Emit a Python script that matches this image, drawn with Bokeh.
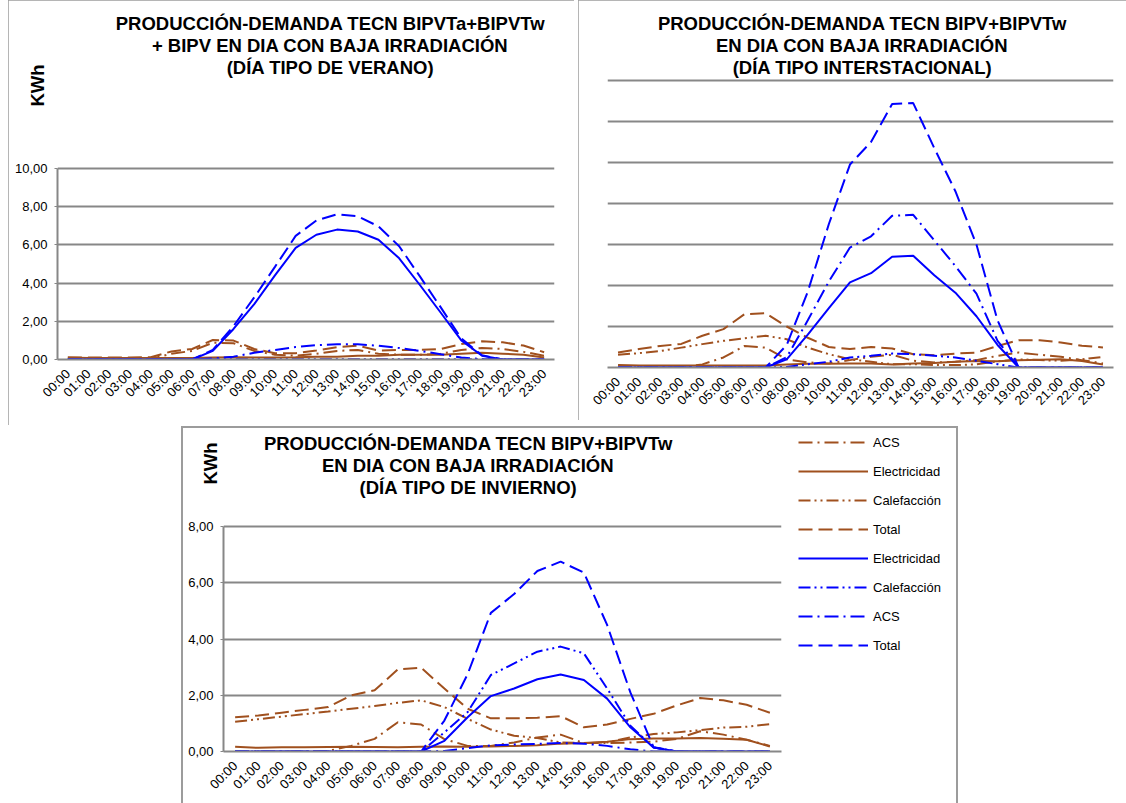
import math
from bokeh.plotting import figure
from bokeh.models import (FactorRange, Range1d, FixedTicker, CustomJSTickFormatter,
                          Label, Legend, LegendItem, Spacer)
from bokeh.layouts import row, column
from bokeh.embed import file_html
from bokeh.resources import INLINE

# ---------------- data ----------------
hours = ["00:00", "01:00", "02:00", "03:00", "04:00", "05:00", "06:00", "07:00",
         "08:00", "09:00", "10:00", "11:00", "12:00", "13:00", "14:00", "15:00",
         "16:00", "17:00", "18:00", "19:00", "20:00", "21:00", "22:00", "23:00"]

# Día tipo de verano (demanda = marrón, producción = azul)
ver_dem_acs = [0, 0, 0, 0, 0.02, 0.3, 0.45, 0.88, 0.85, 0.45, 0.25, 0.2, 0.3, 0.45, 0.5, 0.3, 0.25, 0.25, 0.3, 0.5, 0.6, 0.55, 0.4, 0.2]
ver_dem_elec = [0.1, 0.08, 0.08, 0.08, 0.08, 0.08, 0.08, 0.1, 0.12, 0.1, 0.1, 0.12, 0.15, 0.15, 0.2, 0.2, 0.25, 0.25, 0.25, 0.3, 0.35, 0.3, 0.25, 0.1]
ver_dem_cal = [0, 0, 0, 0, 0, 0, 0, 0, 0, 0, 0, 0, 0, 0, 0, 0, 0, 0, 0, 0, 0, 0, 0, 0]
ver_dem_tot = [0.1, 0.1, 0.1, 0.1, 0.12, 0.42, 0.55, 1.02, 0.99, 0.55, 0.33, 0.33, 0.47, 0.64, 0.73, 0.47, 0.5, 0.5, 0.55, 0.81, 0.95, 0.9, 0.73, 0.38]
ver_pro_elec = [0, 0, 0, 0, 0, 0, 0, 0.45, 1.6, 2.9, 4.4, 5.84, 6.53, 6.8, 6.7, 6.27, 5.3, 3.9, 2.46, 1.0, 0.2, 0, 0, 0]
ver_pro_cal = [0, 0, 0, 0, 0, 0, 0, 0, 0, 0, 0, 0, 0, 0, 0, 0, 0, 0, 0, 0, 0, 0, 0, 0]
ver_pro_acs = [0, 0, 0, 0, 0, 0, 0, 0.05, 0.15, 0.35, 0.5, 0.65, 0.75, 0.8, 0.8, 0.72, 0.6, 0.45, 0.28, 0.1, 0.02, 0, 0, 0]
ver_pro_tot = [0, 0, 0, 0, 0, 0, 0, 0.5, 1.75, 3.25, 4.85, 6.47, 7.28, 7.6, 7.5, 6.97, 5.93, 4.35, 2.74, 1.1, 0.22, 0, 0, 0]

# Día tipo interstacional
int_dem_acs = [0, 0, 0, 0.02, 0.15, 0.49, 1.05, 0.97, 0.4, 0.25, 0.2, 0.36, 0.52, 0.62, 0.33, 0.25, 0.28, 0.36, 0.57, 0.73, 0.62, 0.52, 0.36, 0.2]
int_dem_elec = [0.12, 0.1, 0.1, 0.1, 0.1, 0.1, 0.1, 0.1, 0.15, 0.18, 0.18, 0.2, 0.2, 0.15, 0.2, 0.22, 0.28, 0.32, 0.3, 0.35, 0.38, 0.4, 0.32, 0.15]
int_dem_cal = [0.62, 0.7, 0.8, 0.97, 1.14, 1.3, 1.43, 1.55, 1.38, 0.97, 0.65, 0.4, 0.28, 0.16, 0.16, 0.12, 0.12, 0.15, 0.3, 0.4, 0.36, 0.33, 0.4, 0.52]
int_dem_tot = [0.73, 0.9, 1.05, 1.15, 1.55, 1.87, 2.6, 2.65, 2.0, 1.45, 1.0, 0.9, 1.0, 0.93, 0.65, 0.6, 0.68, 0.73, 1.05, 1.33, 1.33, 1.22, 1.06, 0.98]
int_pro_elec = [0, 0, 0, 0, 0, 0, 0, 0, 0.4, 1.6, 2.9, 4.15, 4.6, 5.4, 5.45, 4.5, 3.65, 2.5, 1.1, 0, 0, 0, 0, 0]
int_pro_cal = [0, 0, 0, 0, 0, 0, 0, 0, 0.03, 0.16, 0.28, 0.49, 0.57, 0.68, 0.65, 0.57, 0.49, 0.33, 0.16, 0, 0, 0, 0, 0]
int_pro_acs = [0, 0, 0, 0, 0, 0, 0, 0, 0.5, 2.3, 4.2, 5.85, 6.4, 7.4, 7.45, 6.2, 4.95, 3.6, 1.3, 0, 0, 0, 0, 0]
int_pro_tot = [0, 0, 0, 0, 0, 0, 0, 0, 1.1, 3.7, 7.0, 9.9, 11.0, 12.85, 12.9, 10.7, 8.6, 6.0, 2.3, 0, 0, 0, 0, 0]

# Día tipo de invierno
inv_dem_acs = [0, 0, 0, 0, 0.02, 0.2, 0.45, 1.04, 0.96, 0.44, 0.2, 0.2, 0.32, 0.5, 0.6, 0.3, 0.3, 0.32, 0.35, 0.45, 0.72, 0.6, 0.42, 0.2]
inv_dem_elec = [0.17, 0.13, 0.15, 0.15, 0.16, 0.17, 0.16, 0.15, 0.17, 0.18, 0.17, 0.18, 0.2, 0.22, 0.28, 0.3, 0.35, 0.44, 0.46, 0.46, 0.48, 0.45, 0.42, 0.18]
inv_dem_cal = [1.06, 1.15, 1.24, 1.33, 1.42, 1.52, 1.62, 1.73, 1.82, 1.58, 1.16, 0.78, 0.56, 0.48, 0.32, 0.3, 0.32, 0.5, 0.62, 0.68, 0.76, 0.85, 0.88, 0.97]
inv_dem_tot = [1.22, 1.28, 1.38, 1.48, 1.58, 2.0, 2.18, 2.92, 2.98, 2.24, 1.52, 1.18, 1.18, 1.2, 1.26, 0.86, 0.96, 1.16, 1.34, 1.64, 1.9, 1.82, 1.66, 1.38]
inv_pro_elec = [0, 0, 0, 0, 0, 0, 0, 0, 0, 0.38, 1.22, 1.97, 2.24, 2.57, 2.74, 2.54, 1.88, 0.86, 0.14, 0, 0, 0, 0, 0]
inv_pro_cal = [0, 0, 0, 0, 0, 0, 0, 0, 0, 0.68, 1.4, 2.72, 3.13, 3.55, 3.73, 3.49, 2.24, 0.92, 0.14, 0, 0, 0, 0, 0]
inv_pro_acs = [0, 0, 0, 0, 0, 0, 0, 0, 0, 0.02, 0.12, 0.22, 0.25, 0.27, 0.3, 0.28, 0.2, 0.08, 0, 0, 0, 0, 0, 0]
inv_pro_tot = [0, 0, 0, 0, 0, 0, 0, 0, 0, 1.1, 2.75, 4.93, 5.6, 6.42, 6.75, 6.36, 4.5, 2.1, 0.15, 0, 0, 0, 0, 0]

titles_ver = "PRODUCCIÓN-DEMANDA TECN BIPVTa+BIPVTw\n+ BIPV EN DIA CON BAJA IRRADIACIÓN\n(DÍA TIPO DE VERANO)"
titles_int = "PRODUCCIÓN-DEMANDA TECN BIPV+BIPVTw\nEN DIA CON BAJA IRRADIACIÓN\n(DÍA TIPO INTERSTACIONAL)"
titles_inv = "PRODUCCIÓN-DEMANDA TECN BIPV+BIPVTw\nEN DIA CON BAJA IRRADIACIÓN\n(DÍA TIPO DE INVIERNO)"
y_label = "KWh"
series_names = ["ACS", "Electricidad", "Calefacción", "Total"]
prod_names = ["Electricidad", "Calefacción", "ACS", "Total"]

# ---------------- styles ----------------
FONT = "Liberation Sans"
BROWN = "#A0501E"
BLUE = "#0000FF"
GRID = "#878787"
EDGE = "#9c9c9c"
DASH = {"ACS": "14 5 2 5", "Electricidad": "solid", "Calefacción": "12 4 2 4 2 4", "Total": "14 6"}
BORDER = {"outline": "2px solid " + EDGE, "outline-offset": "-2px"}
KWH_H = 42  # panel height taken by the rotated KWh label


def no_align(p):
    try:
        p.frame_align = False
    except Exception:
        pass


def make_panel(width, height, ml, mr, mt, mb, ymax, data_px, show_y, border=True):
    y_end = ymax + 2.0 * ymax / data_px   # 2 px headroom so the top grid line shows
    p = figure(width=width, height=height, title=None,
               x_range=FactorRange(factors=hours, range_padding=0),
               y_range=Range1d(0, y_end),
               output_backend="svg", toolbar_location=None,
               min_border_left=ml, min_border_right=mr,
               min_border_top=mt - 2, min_border_bottom=mb)
    no_align(p)
    p.outline_line_color = None
    p.background_fill_color = "white"
    p.border_fill_color = "white"
    if border:
        p.styles = BORDER
    ticks = list(range(0, ymax + 1, 2))
    p.ygrid.ticker = FixedTicker(ticks=ticks)
    p.ygrid.grid_line_color = GRID
    p.ygrid.grid_line_width = 2
    p.xgrid.visible = False

    xa = p.xaxis[0]
    xa.major_label_orientation = math.pi / 4
    xa.major_tick_line_color = None
    xa.minor_tick_line_color = None
    xa.axis_line_color = GRID
    xa.axis_line_width = 2
    xa.major_label_text_font = FONT
    xa.major_label_text_font_size = "13px"
    xa.major_label_text_color = "black"
    xa.major_label_standoff = 6

    ya = p.yaxis[0]
    if show_y:
        ya.ticker = FixedTicker(ticks=ticks)
        ya.bounds = (0, ymax)
        ya.formatter = CustomJSTickFormatter(code="return tick.toFixed(2).replace('.', ',');")
        ya.axis_line_color = GRID
        ya.axis_line_width = 2
        ya.major_tick_line_color = GRID
        ya.major_tick_out = 3
        ya.major_tick_in = 0
        ya.minor_tick_line_color = None
        ya.major_label_text_font = FONT
        ya.major_label_text_font_size = "13px"
        ya.major_label_text_color = "black"
        ya.major_label_standoff = 7
    else:
        ya.visible = False
    return p


def add_series(p, dem, pro):
    rends = {}
    for name, vals in zip(series_names, dem):
        rends[("dem", name)] = p.line(x=hours, y=vals, line_color=BROWN, line_width=2,
                                      line_dash=DASH[name])
    for name, vals in zip(prod_names, pro):
        rends[("pro", name)] = p.line(x=hours, y=vals, line_color=BLUE, line_width=2,
                                      line_dash=DASH[name])
    return rends


def text_label(text, x, y, angle=0.0):
    return Label(x=x, y=y, x_units="screen", y_units="screen", text=text, angle=angle,
                 text_align="center", text_baseline="middle", text_line_height=1.05,
                 text_font=FONT, text_font_size="18.5px", text_font_style="bold",
                 text_color="black")


def blank_fig(width, height, ml=0, x_range=None, y_range=None):
    f = figure(width=width, height=height, title=None, x_axis_type=None, y_axis_type=None,
               x_range=x_range if x_range is not None else Range1d(0, 1),
               y_range=y_range if y_range is not None else Range1d(0, 1),
               output_backend="svg", toolbar_location=None,
               min_border_left=ml, min_border_right=0, min_border_top=0, min_border_bottom=0)
    no_align(f)
    f.outline_line_color = None
    f.background_fill_color = "white"
    f.border_fill_color = "white"
    f.grid.visible = False
    return f


# ---- summer ---- (canvas at page x 8, y 0; frame 57..554 x 168..359)
p1 = make_panel(566, 425, 49, 20, 168, 66, 10, 191, True)
add_series(p1, [ver_dem_acs, ver_dem_elec, ver_dem_cal, ver_dem_tot],
           [ver_pro_elec, ver_pro_cal, ver_pro_acs, ver_pro_tot])
p1.add_layout(text_label(y_label, -20, 166 - 85, math.pi / 2), "above")
p1.add_layout(text_label(titles_ver, 273, 166 - KWH_H - 45), "above")

# ---- interstational ---- (canvas at page x 578, y 0; frame 607..1113 x 80..367)
p2 = make_panel(548, 420, 29, 13, 80, 53, 14, 287, False)
add_series(p2, [int_dem_acs, int_dem_elec, int_dem_cal, int_dem_tot],
           [int_pro_elec, int_pro_cal, int_pro_acs, int_pro_tot])
p2.add_layout(text_label(titles_int, 255, 78 - 45), "above")

# ---- winter ---- header (page x 183..785, y 428..500), plot (y 500..803), legend (x 785..956)
head3 = blank_fig(602, 72)
head3.add_layout(text_label(titles_inv, 468 - 183, 500 - 465))
head3.add_layout(text_label(y_label, 210 - 183, 500 - 463, math.pi / 2))

p3 = make_panel(602, 303, 40, 4, 26, 52, 8, 223, True, border=False)
add_series(p3, [inv_dem_acs, inv_dem_elec, inv_dem_cal, inv_dem_tot],
           [inv_pro_elec, inv_pro_cal, inv_pro_acs, inv_pro_tot])

# legend panel: same series, kept outside its (empty) visible range; only the legend shows
leg3 = blank_fig(171, 375, ml=9,
                 x_range=FactorRange(factors=hours, range_padding=0), y_range=Range1d(100, 101))
leg_r = add_series(leg3, [inv_dem_acs, inv_dem_elec, inv_dem_cal, inv_dem_tot],
                   [inv_pro_elec, inv_pro_cal, inv_pro_acs, inv_pro_tot])

legend_order = [("dem", "ACS"), ("dem", "Electricidad"), ("dem", "Calefacción"), ("dem", "Total"),
                ("pro", "Electricidad"), ("pro", "Calefacción"), ("pro", "ACS"), ("pro", "Total")]
legend = Legend(items=[LegendItem(label=k[1], renderers=[leg_r[k]]) for k in legend_order],
                location="top_left", orientation="vertical",
                glyph_width=70, glyph_height=20, label_height=20, spacing=9,
                padding=0, margin=4, border_line_color=None, background_fill_alpha=0,
                label_text_font=FONT, label_text_font_size="13px", label_standoff=5,
                label_text_color="black")
leg3.add_layout(legend)

bottom = row(column(head3, p3), leg3)
bottom.styles = {"border-top": "2px solid " + EDGE, "border-left": "2px solid " + EDGE,
                 "border-right": "2px solid " + EDGE, "box-sizing": "content-box"}

root = column(row(Spacer(width=8), p1, Spacer(width=4), p2),
              Spacer(height=1),
              row(Spacer(width=181), bottom))

with open("out.html", "w", encoding="utf-8") as f:
    f.write(file_html(root, INLINE, title="Producción-demanda"))
